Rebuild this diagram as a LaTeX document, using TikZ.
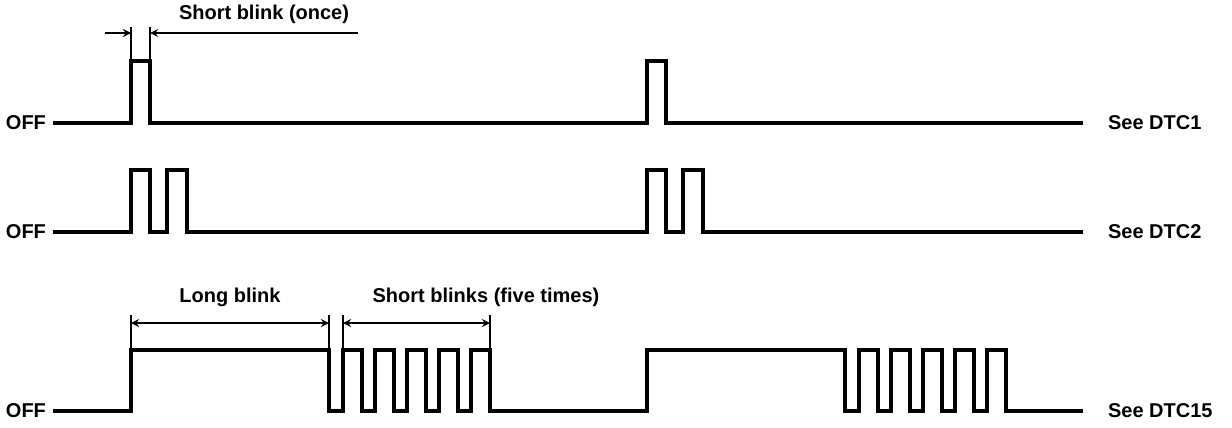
\documentclass[tikz,border=0pt]{standalone}
\usepackage{fontspec}
\setmainfont{Liberation Sans}
\usetikzlibrary{arrows,positioning}
\tikzset{
    lbl/.style={font=\bfseries\fontsize{10}{12}\selectfont},
    wave/.style={line width=1.6pt,line join=miter},
    ext/.style={line width=0.8pt},
    dim/.style={line width=0.8pt,>=stealth}
}

\begin{document}
\begin{tikzpicture}[x=0.5pt,y=-0.5pt]

                \useasboundingbox (0,0) rectangle (1232,428);

                % DTC1
                \node[lbl,anchor=east] (off 1) at (53,123)          {OFF};
                \coordinate            (end 1) at (1083,123);
                \node[lbl]             (dtc 1) [right=9pt of end 1] {See DTC1};
                \draw[wave] (off 1.east) \foreach \s in {0,516} { -| (131+\s,61) -| (150+\s,123) } -- (end 1);

                \draw[ext] (131,61) -- (131,27);
                \draw[ext] (150,61) -- (150,27);
                \draw[dim,->] (105,33) -- (131,33);
                \draw[dim,->] (358,33) -- (150,33);
                \node[lbl] (once) at (264,14) {Short blink (once)};

                % DTC2
                \node[lbl,anchor=east] (off 2) at (53,232)          {OFF};
                \coordinate            (end 2) at (1083,232);
                \node[lbl]             (dtc 2) [right=9pt of end 2] {See DTC2};
                \draw[wave] (off 2.east) \foreach \s in {0,516} { -| (131+\s,170) -| (150+\s,232) -| (167+\s,170) -| (187+\s,232) } -- (end 2);

                % DTC15
                \node[lbl,anchor=east] (off 3) at (53,411)          {OFF};
                \coordinate            (end 3) at (1083,411);
                \node[lbl]             (dtc 3) [right=9pt of end 3] {See DTC15};
                \draw[wave] (off 3.east) \foreach \s in {0,516} { -| (131+\s,350) -| (329+\s,411)
                    \foreach \k in {0,...,4} { -| (343+\s+32*\k,350) -| (362+\s+32*\k,411) } } -- (end 3);

                \foreach \x in {131,329,343,490}
                    \draw[ext] (\x,350) -- (\x,315);
                \draw[dim,<->] (131,323) -- (329,323);
                \draw[dim,<->] (343,323) -- (490,323);
                \node[lbl] (long) at (230,297) {Long blink};
                \node[lbl] (five) at (486,297) {Short blinks (five times)};

            \end{tikzpicture}
\end{document}
